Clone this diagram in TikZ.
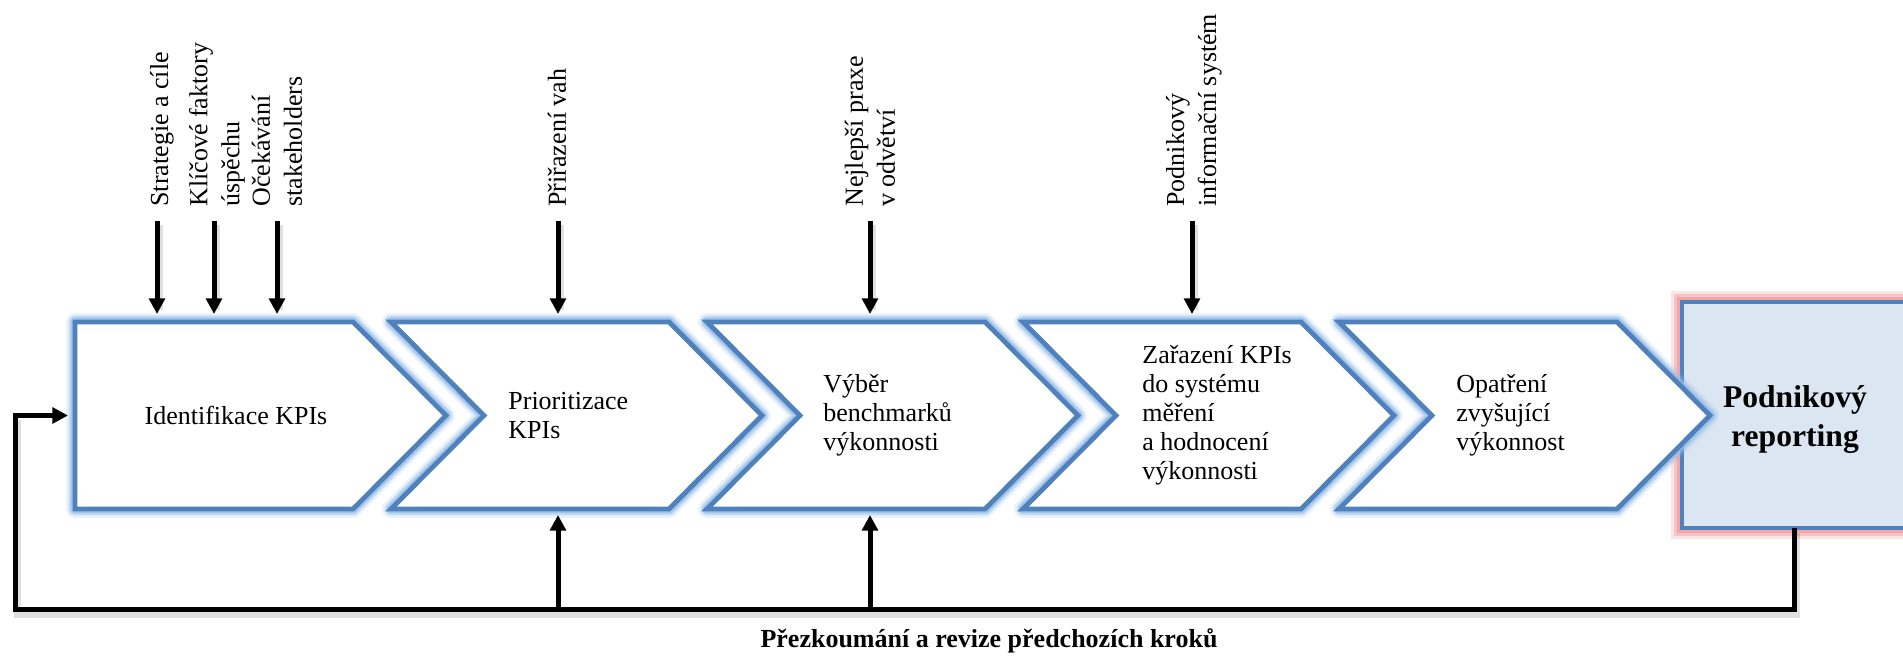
\documentclass[tikz,border=0pt]{standalone}
\usepackage{fontspec}
\setmainfont{Liberation Serif}
\usetikzlibrary{arrows.meta}
\definecolor{cborder}{HTML}{4F81BD}
\definecolor{cglow}{HTML}{94BCE8}
\definecolor{rglow}{HTML}{F09A9A}
\definecolor{rfill}{HTML}{DCE6F2}
\tikzset{
  inlabel/.style={font=\fontsize{13}{16}\selectfont, rotate=90, anchor=west, align=left, inner sep=0pt},
  steptext/.style={font=\fontsize{13}{14.5}\selectfont, align=left, inner sep=0pt},
  blackarrow/.style={line width=2.5pt, -{Triangle[width=7.8pt,length=7.8pt]}},
  shadowline/.style={line width=3.5pt, black, opacity=0.12},
  chevron/.style={
    preaction={draw=cglow, line width=9pt, opacity=0.2, line join=round},
    preaction={draw=cglow, line width=6.5pt, opacity=0.4, line join=round},
    preaction={draw=cglow, line width=4.5pt, opacity=0.7, line join=round},
    fill=white, draw=cborder, line width=2.4pt, line join=miter},
  chevpath/.style={insert path={(#1,322) -- ++(278,0) -- ++(93,93.5) -- ++(-93,93.5) -- ++(-278,0) -- ++(93,-93.5) -- cycle}},
}
\begin{document}
\begin{tikzpicture}[x=0.5pt,y=-0.5pt]
\useasboundingbox (0,0) rectangle (1903,657);

% final box
\path[preaction={draw=rglow, line width=11pt, opacity=0.25},
      preaction={draw=rglow, line width=8pt, opacity=0.45},
      preaction={draw=rglow, line width=5pt, opacity=0.7},
      fill=rfill, draw=cborder, line width=2.4pt] (1682,302) rectangle (1935,528);
\node[font=\fontsize{15.8}{19.5}\selectfont\bfseries, align=center, inner sep=0pt] (rep) at (1795,420) {Podnikový\\reporting};

% chevrons
\path[chevron] (75,322) -- (353,322) -- (446,415.5) -- (353,509) -- (75,509) -- cycle;
\path[chevron, chevpath=391];
\path[chevron, chevpath=707];
\path[chevron, chevpath=1023];
\path[chevron, chevpath=1339];

% step texts
\node[steptext] (c1) at (236,415.5) {Identifikace KPIs};
\node[steptext, anchor=west] (c2) at (508,415.5) {Prioritizace\\KPIs};
\node[steptext, anchor=west] (c3) at (823,415.5) {Výběr\\benchmarků\\výkonnosti};
\node[steptext, anchor=west] (c4) at (1142,415.5) {Zařazení KPIs\\do systému\\měření\\a hodnocení\\výkonnosti};
\node[steptext, anchor=west] (c5) at (1456,415.5) {Opatření\\zvyšující\\výkonnost};

% input labels
\node[inlabel] (l1) at (162,207) {Strategie a cíle};
\node[inlabel] (l2) at (217,207) {Klíčové faktory\\úspěchu};
\node[inlabel] (l3) at (277,207) {Očekávání\\stakeholders};
\node[inlabel] (l4) at (557,207) {Přiřazení vah};
\node[inlabel] (l5) at (870,207) {Nejlepší praxe\\v odvětví};
\node[inlabel] (l6) at (1194,207) {Podnikový\\informační systém};

% input arrows
\foreach \n/\x in {1/157,2/214,3/277,4/558,5/870,6/1192}{
  \coordinate (a\n s) at (\x,221);
  \coordinate (a\n e) at (\x,314);
}
\foreach \n in {1,...,6}{
  \draw[shadowline] ([shift={(2,4)}]a\n s) -- ([shift={(2,-4)}]a\n e);
  \draw[blackarrow] (a\n s) -- (a\n e);
}

% feedback loop
\coordinate (fbtop) at (1794,528);
\coordinate (fbrb) at (1794,610);
\coordinate (fblb) at (15,610);
\coordinate (fblt) at (15,415.5);
\coordinate (fbin) at (68,415.5);
\coordinate (u1s) at (558,610);
\coordinate (u1e) at (558,515);
\coordinate (u2s) at (870,610);
\coordinate (u2e) at (870,515);
\draw[shadowline] ([shift={(2,5)}]fbtop) -- ([shift={(2,5)}]fbrb) -- ([shift={(2,5)}]fblb) -- ([shift={(2,5)}]fblt);
\draw[blackarrow, line join=miter] (fbtop) -- (fbrb) -- (fblb) -- (fblt) -- (fbin);
\draw[blackarrow] (u1s) -- (u1e);
\draw[blackarrow] (u2s) -- (u2e);

\node[font=\fontsize{13}{15}\selectfont\bfseries, anchor=base, inner sep=0pt] (fbl) at (989,648) {Přezkoumání a revize předchozích kroků};
\end{tikzpicture}
\end{document}
